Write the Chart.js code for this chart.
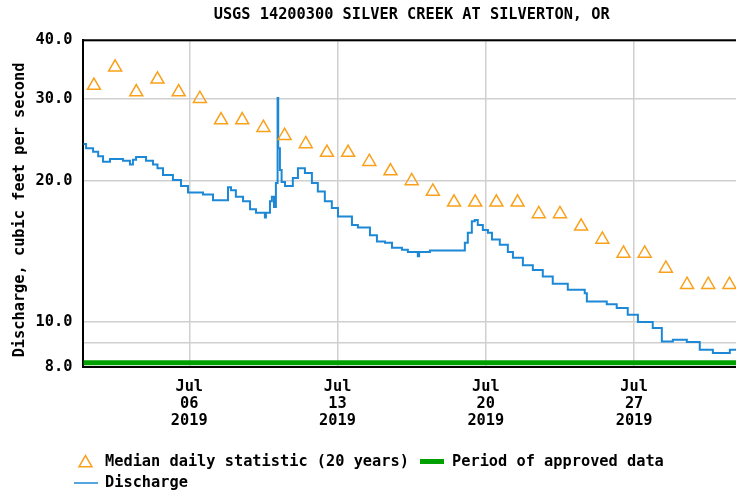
<!DOCTYPE html>
<html>
<head>
<meta charset="utf-8">
<script src="https://cdn.jsdelivr.net/npm/chart.js@4.4.1/dist/chart.umd.min.js"></script>
<style>
html,body{margin:0;padding:0;overflow:hidden;background:#fff;}
canvas{display:block;}
</style>
</head>
<body>
<canvas id="grafico" width="740" height="496"></canvas>
<script>
/* =================== Dados =================== */
const titulo = "USGS 14200300 SILVER CREEK AT SILVERTON, OR";
const tituloY = "Discharge, cubic feet per second";

// mediana diaria (20 anos), um valor por dia de 1 a 31 de julho
const medianaCfs = [32,35,31,33,31,30,27,27,26,25,24,23,23,22,21,20,19,18,18,18,18,17,17,16,15,14,14,13,12,12,12];

// vazao: dias desde 01/jul 00:00 e valor em cada degrau
const vazaoDia = [0,0.13,0.46,0.70,0.93,1.26,1.87,2.20,2.34,2.49,2.96,3.29,3.50,3.76,4.23,4.61,4.94,5.65,6.12,6.83,
  6.97,7.20,7.54,7.87,8.15,8.57,8.62,8.81,8.90,9.00,9.09,9.17,9.20,9.28,9.36,9.52,9.89,10.13,10.46,10.79,
  11.07,11.40,11.73,12.02,12.68,12.96,13.53,13.86,14.24,14.57,15.04,15.32,15.79,15.85,16.36,18.01,18.15,18.34,18.48,18.62,
  18.86,19.10,19.29,19.66,20.04,20.28,20.75,21.22,21.69,22.16,22.87,23.67,23.77,24.71,25.18,25.70,26.18,26.88,27.31,27.83,
  28.49,29.10,29.72,30.52,31];
const vazaoCfs = [24.0,23.5,23.1,22.6,22.0,22.3,22.1,21.7,22.2,22.5,22.1,21.7,21.3,20.6,20.1,19.5,18.9,18.7,18.2,19.4,
  19.1,18.5,18.1,17.4,17.1,16.7,17.1,18.1,18.5,17.6,19.8,30.1,23.5,21.1,19.9,19.5,20.3,21.3,20.8,19.8,
  19.0,18.1,17.5,16.8,16.1,15.9,15.3,14.85,14.75,14.4,14.25,14.1,13.8,14.1,14.2,14.75,15.5,16.4,16.5,16.1,
  15.7,15.5,15.0,14.6,14.1,13.7,13.2,12.9,12.5,12.06,11.7,11.5,11.05,10.9,10.7,10.35,9.98,9.7,9.07,9.15,
  9.05,8.71,8.57,8.71,8.71];

// periodo de dados aprovados (faixa no rodape)
const aprovadoDia = [0, 31];
const aprovadoCfs = [8.17, 8.17];

// eixos
const xTicksDia = [5, 12, 19, 26];
const xTicksTexto = [["Jul","06","2019"],["Jul","13","2019"],["Jul","20","2019"],["Jul","27","2019"]];
const yGrade = [8, 9, 10, 20, 30, 40];
const yRotulos = [8, 10, 20, 30, 40];

/* =================== Estilo =================== */
const LARANJA = "#f9a11b";
const AZUL = "#1c88d6";
const VERDE = "#00a000";
const GRADE = "#d0d0d0";
const FONTE = "'DejaVu Sans Mono', monospace";

Chart.defaults.font.family = FONTE;
Chart.defaults.font.size = 15.3;
Chart.defaults.font.weight = "bold";
Chart.defaults.color = "#000";

const pares = (xs, ys) => xs.map((x, i) => ({x, y: ys[i]}));

/* --------------- moldura superior, titulo do eixo y e legenda --------------- */
const extras = {
  id: "extras",
  afterDraw(chart){
    const {ctx, chartArea: a} = chart;
    ctx.save();
    ctx.strokeStyle = "#000";
    ctx.lineWidth = 2;
    ctx.beginPath();
    ctx.moveTo(a.left - 1, a.top);
    ctx.lineTo(a.right, a.top);
    ctx.stroke();

    ctx.font = `bold 15.3px ${FONTE}`;
    ctx.fillStyle = "#000";
    ctx.textBaseline = "middle";

    // titulo do eixo y (girado)
    ctx.save();
    ctx.translate(20, 210);
    ctx.rotate(-Math.PI / 2);
    ctx.textAlign = "center";
    ctx.fillText(tituloY, 0, 0);
    ctx.restore();

    const ds = chart.data.datasets;
    ctx.textAlign = "left";

    // linha 1: mediana + aprovado
    ctx.save();
    ctx.strokeStyle = LARANJA;
    ctx.fillStyle = "rgba(0,0,0,0)";
    ctx.lineWidth = 1.5;
    Chart.helpers.drawPoint(ctx, {pointStyle: "triangle", radius: 7.5, rotation: 0, borderWidth: 1.5}, 85.5, 463);
    ctx.restore();
    ctx.fillText(ds[0].label, 105, 462);

    ctx.strokeStyle = VERDE;
    ctx.lineWidth = 5;
    ctx.beginPath(); ctx.moveTo(420, 461.5); ctx.lineTo(444, 461.5); ctx.stroke();
    ctx.fillText(ds[2].label, 452, 462);

    // linha 2: vazao
    ctx.strokeStyle = AZUL;
    ctx.lineWidth = 1.5;
    ctx.beginPath(); ctx.moveTo(74, 483); ctx.lineTo(98, 483); ctx.stroke();
    ctx.fillText(ds[1].label, 105, 483.5);
    ctx.restore();
  }
};

new Chart(document.getElementById("grafico"), {
  type: "line",
  data: {
    datasets: [
      {
        label: "Median daily statistic (20 years)",
        data: medianaCfs.map((v, i) => ({x: i + 0.5, y: v})),
        showLine: false,
        pointStyle: "triangle",
        pointRadius: 7.5,
        pointBorderWidth: 1.5,
        pointBorderColor: LARANJA,
        pointBackgroundColor: "rgba(0,0,0,0)"
      },
      {
        label: "Discharge",
        data: pares(vazaoDia, vazaoCfs),
        stepped: "before",
        borderColor: AZUL,
        borderWidth: 2,
        pointRadius: 0,
        fill: false
      },
      {
        label: "Period of approved data",
        data: pares(aprovadoDia, aprovadoCfs),
        borderColor: VERDE,
        borderWidth: 5,
        pointRadius: 0,
        fill: false
      }
    ]
  },
  options: {
    responsive: false,
    animation: false,
    events: [],
    layout: { autoPadding: false, padding: 0 },
    plugins: {
      legend: { display: false },
      tooltip: { enabled: false },
      title: {
        display: true,
        text: titulo,
        fullSize: false,
        font: { size: 15.3, weight: "bold", lineHeight: 1.2 },
        padding: { top: 5.8, bottom: 16.1 }
      }
    },
    scales: {
      x: {
        type: "linear",
        min: 0, max: 31,
        afterFit(s){ s.height = 129; },
        afterBuildTicks(s){ s.ticks = xTicksDia.map(v => ({value: v})); },
        grid: { color: GRADE, lineWidth: 1.5, drawTicks: false },
        border: { color: "#000", width: 2 },
        ticks: {
          padding: 11,
          maxRotation: 0,
          autoSkip: false,
          font: { lineHeight: 1.125 },
          callback: (v, i) => xTicksTexto[i]
        }
      },
      y: {
        type: "logarithmic",
        min: 8, max: 40,
        afterFit(s){ s.width = 83.35; },
        afterBuildTicks(s){ s.ticks = yGrade.map(v => ({value: v})); },
        grid: { color: GRADE, lineWidth: 1.5, drawTicks: false },
        border: { color: "#000", width: 2 },
        ticks: {
          padding: 11,
          autoSkip: false,
          callback: v => yRotulos.includes(v) ? v.toFixed(1) : ""
        }
      }
    }
  },
  plugins: [extras]
});
</script>
</body>
</html>
